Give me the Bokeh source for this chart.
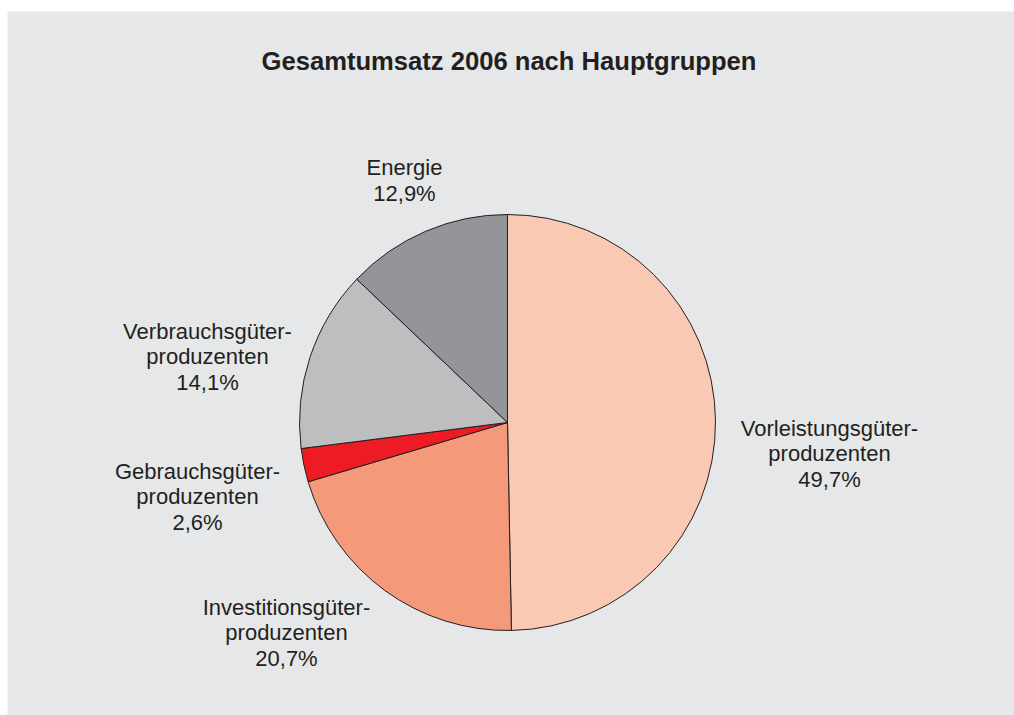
import math
from bokeh.plotting import figure
from bokeh.models import Range1d, ColumnDataSource
from bokeh.core.properties import value
from bokeh.embed import file_html
from bokeh.resources import INLINE

# ---- data ----
title_text = "Gesamtumsatz 2006 nach Hauptgruppen"
categories = ["Vorleistungsgüter-\nproduzenten", "Investitionsgüter-\nproduzenten",
              "Gebrauchsgüter-\nproduzenten", "Verbrauchsgüter-\nproduzenten", "Energie"]
shares = [49.7, 20.7, 2.6, 14.1, 12.9]
colors = ["#f9c9b4", "#f49a7b", "#ed1c24", "#bcbec0", "#939598"]

# ---- layout ----
W, H = 1014, 715
LEFT, TOP = 7, 11
cx, cy = 507, 293           # pie centre in plot units (1 unit = 1 px, y up from bottom)
R = 208
# label anchor offsets from centre (px, y up)
label_offsets = [(322, -31), (-221, -210), (-310, -74), (-300, 66), (-103, 242)]

total = sum(shares)
starts, ends = [], []
cum = 0.0
for s in shares:
    a0 = math.pi / 2 - 2 * math.pi * cum / total
    cum += s
    a1 = math.pi / 2 - 2 * math.pi * cum / total
    starts.append(a0)
    ends.append(a1)

src = ColumnDataSource(dict(start=starts, end=ends, color=colors,
                            x=[cx] * len(shares), y=[cy] * len(shares)))

p = figure(width=W, height=H, output_backend="svg", toolbar_location=None,
           x_range=Range1d(LEFT, W), y_range=Range1d(0, H - TOP),
           min_border_left=LEFT, min_border_top=TOP, min_border_right=0, min_border_bottom=0)
p.axis.visible = False
p.grid.visible = False
p.outline_line_color = None
p.background_fill_color = "#e6e7e8"
p.border_fill_color = "white"

p.wedge(x="x", y="y", radius=R, radius_units="screen", start_angle="start", end_angle="end",
        direction="clock", fill_color="color", line_color="#231f20", line_width=1, source=src)

labels = [f"{c}\n{str(s).replace('.', ',')}%" for c, s in zip(categories, shares)]
lx = [cx + dx for dx, dy in label_offsets]
ly = [cy + dy for dx, dy in label_offsets]
p.text(x=lx, y=ly, text=labels, text_align="center", text_baseline="middle",
       text_font=value("Liberation Sans"), text_font_size="22px", text_color="#231f20",
       text_line_height=1.02)

p.text(x=[508.5], y=[H - 60], text=[title_text], text_align="center", text_baseline="middle",
       text_font=value("Liberation Sans"), text_font_style="bold", text_font_size="25.6px",
       text_color="#231f20")

open("out.html", "w").write(file_html(p, INLINE))
